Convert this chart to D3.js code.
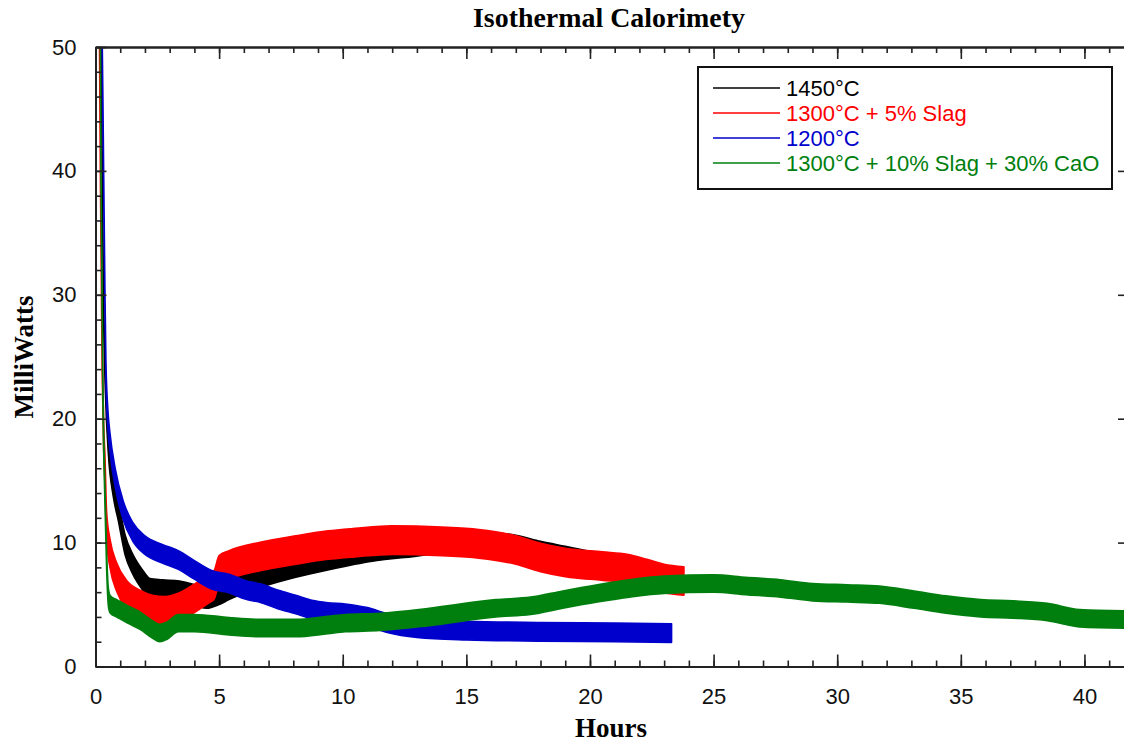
<!DOCTYPE html>
<html>
<head>
<meta charset="utf-8">
<script src="https://cdn.jsdelivr.net/npm/d3@7"></script>
<style>
  body { margin: 0; background: #fff; }
  svg { display: block; }
</style>
</head>
<body>
<svg id="chart" width="1124" height="742"></svg>
<script>
// series names and colours, legend order
const seriesNames = ["1450°C", "1300°C + 5% Slag", "1200°C", "1300°C + 10% Slag + 30% CaO"];
const seriesColors = ["#000000", "#ff0000", "#0000cc", "#007f0e"];

// hours / milliwatts (centre of the noisy band)
const hours1450 = [0.12, 0.25, 0.32, 0.4, 0.52, 0.72, 0.92, 1.2, 1.5, 1.9, 2.2, 2.7, 3.4, 4.0, 4.5, 5.0, 5.4, 6.7, 8.1, 9.4, 11.2, 12.5, 14, 16, 17, 18, 19, 20, 21.5, 22.5, 23.4];
const mw1450    = [70, 45, 30, 23, 18, 14.5, 12.6, 9.8, 8.3, 7.0, 6.3, 6.2, 6.1, 5.8, 5.5, 5.8, 6.2, 7.2, 8.0, 8.6, 9.3, 9.6, 9.9, 10.0, 9.8, 9.3, 8.9, 8.5, 8.0, 7.6, 7.0];

const hours1300s5 = [0.1, 0.2, 0.27, 0.33, 0.38, 0.45, 0.59, 0.86, 1.26, 1.8, 2.3, 2.8, 3.4, 4.0, 4.6, 4.8, 5.0, 5.4, 6.7, 8.1, 9.4, 10.5, 12, 14, 15.5, 17, 18, 19, 20.5, 21.5, 22.3, 23, 23.8];
const mw1300s5    = [70, 40, 25, 18.5, 16, 11.3, 9.1, 7.2, 5.8, 5.0, 4.6, 4.5, 4.8, 5.5, 6.3, 6.6, 7.8, 8.2, 8.9, 9.4, 9.8, 10.0, 10.2, 10.1, 9.9, 9.4, 8.8, 8.4, 8.1, 7.9, 7.5, 7.1, 6.9];

const hours1200 = [0.15, 0.3, 0.38, 0.42, 0.5, 0.59, 0.79, 1.12, 1.5, 2.0, 2.7, 3.35, 4.0, 4.7, 5.4, 6.05, 6.7, 7.4, 8.1, 8.75, 9.4, 10.1, 11, 11.8, 13, 15, 18, 21, 23.3];
const mw1200    = [70, 45, 30, 24, 20, 18, 15.3, 12.6, 10.9, 9.8, 9.1, 8.6, 7.8, 7.0, 6.7, 6.2, 5.9, 5.4, 5.0, 4.6, 4.4, 4.3, 4.0, 3.5, 3.1, 2.9, 2.8, 2.75, 2.7];

const hoursCaO = [0.15, 0.22, 0.3, 0.38, 0.45, 0.52, 0.6, 0.86, 1.3, 1.8, 2.3, 2.6, 2.9, 3.35, 4.0, 5.4, 6.7, 8.1, 9.4, 10.1, 11.5, 13.5, 16.2, 17.6, 18.9, 20.3, 21.6, 23, 25, 26.3, 27.7, 29, 30.4, 31.7, 33.1, 34.4, 35.8, 37.1, 38.5, 39.8, 41.6];
const mwCaO    = [70, 40, 22, 14, 8.6, 5.6, 5.0, 4.7, 4.2, 3.7, 3.0, 2.7, 2.9, 3.5, 3.5, 3.25, 3.1, 3.1, 3.35, 3.5, 3.6, 4.0, 4.7, 4.9, 5.4, 5.9, 6.3, 6.6, 6.7, 6.5, 6.3, 6.0, 5.9, 5.8, 5.4, 5.0, 4.7, 4.6, 4.4, 3.9, 3.8];

// half height of each noise band, milliwatts
const noiseAmp = [0.8, 1.15, 0.75, 0.7];

const xTicks = [0, 5, 10, 15, 20, 25, 30, 35, 40];
const yTicks = [0, 10, 20, 30, 40, 50];

const allHours = [hours1450, hours1300s5, hours1200, hoursCaO];
const allMw = [mw1450, mw1300s5, mw1200, mwCaO];

const svg = d3.select("#chart");
const x = d3.scaleLinear().domain([0, 41.6]).range([95.5, 1124]);
const y = d3.scaleLinear().domain([0, 50]).range([666.5, 47]);

const tickFont = '"Liberation Sans", Arial, sans-serif';
const titleFont = '"Liberation Serif", "Times New Roman", serif';

svg.append("clipPath").attr("id", "plot")
  .append("rect")
  .attr("x", x(0)).attr("y", y(50))
  .attr("width", x(41.6) - x(0)).attr("height", y(0) - y(50));

// noisy traces as bands
const band = d3.area()
  .x(d => x(d.h))
  .y0(d => y(d.v - d.n))
  .y1(d => y(d.v + d.n))
  .curve(d3.curveMonotoneX);

const traces = svg.append("g").attr("clip-path", "url(#plot)");
seriesNames.forEach((name, i) => {
  const pts = allHours[i].map((h, j) => ({ h: h, v: allMw[i][j], n: noiseAmp[i] }));
  traces.append("path")
    .datum(pts)
    .attr("d", band)
    .attr("fill", seriesColors[i])
    .attr("stroke", seriesColors[i])
    .attr("stroke-width", 1.6)
    .attr("stroke-linejoin", "round");
});

// axes
function styleAxis(g) {
  g.select(".domain").attr("stroke", "#222").attr("stroke-width", 2);
  g.selectAll(".tick line").attr("stroke", "#222").attr("stroke-width", 1.6);
  g.selectAll(".tick text").attr("fill", "#111");
  g.attr("font-family", tickFont).attr("font-size", 22);
}

svg.append("g")
  .attr("transform", `translate(0,${y(0)})`)
  .call(d3.axisBottom(x).tickValues(d3.range(0, 42, 1)).tickSize(-6).tickSizeOuter(0).tickFormat(""))
  .call(styleAxis);
svg.append("g")
  .attr("transform", `translate(0,${y(0)})`)
  .call(d3.axisBottom(x).tickValues(xTicks).tickSize(-12).tickSizeOuter(0).tickPadding(22).tickFormat(d3.format("d")))
  .call(styleAxis);

svg.append("g")
  .attr("transform", `translate(0,${y(50)})`)
  .call(d3.axisTop(x).tickValues(d3.range(0, 42, 1)).tickSize(-6).tickSizeOuter(0).tickFormat(""))
  .call(styleAxis);
svg.append("g")
  .attr("transform", `translate(0,${y(50)})`)
  .call(d3.axisTop(x).tickValues(xTicks).tickSize(-12).tickSizeOuter(0).tickFormat(""))
  .call(styleAxis);

svg.append("g")
  .attr("transform", `translate(${x(0)},0)`)
  .call(d3.axisLeft(y).tickValues(d3.range(0, 51, 2)).tickSize(-6).tickSizeOuter(0).tickFormat(""))
  .call(styleAxis);
svg.append("g")
  .attr("transform", `translate(${x(0)},0)`)
  .call(d3.axisLeft(y).tickValues(yTicks).tickSize(-11).tickSizeOuter(0).tickPadding(19).tickFormat(d3.format("d")))
  .call(styleAxis);

svg.append("g")
  .attr("transform", `translate(1124,0)`)
  .call(d3.axisRight(y).tickValues([10, 20, 30, 40]).tickSize(-6).tickSizeOuter(0).tickFormat(""))
  .call(styleAxis)
  .call(g => g.select(".domain").remove());

// titles
svg.append("text")
  .attr("x", 609).attr("y", 27)
  .attr("text-anchor", "middle")
  .attr("font-family", titleFont).attr("font-weight", "bold").attr("font-size", 27)
  .attr("textLength", 272).attr("lengthAdjust", "spacingAndGlyphs")
  .text("Isothermal Calorimety");

svg.append("text")
  .attr("x", 611).attr("y", 737)
  .attr("text-anchor", "middle")
  .attr("font-family", titleFont).attr("font-weight", "bold").attr("font-size", 27)
  .text("Hours");

svg.append("text")
  .attr("transform", "translate(33,357) rotate(-90)")
  .attr("text-anchor", "middle")
  .attr("font-family", titleFont).attr("font-weight", "bold").attr("font-size", 27)
  .text("MilliWatts");

// legend
const legend = svg.append("g");
legend.append("rect")
  .attr("x", 698).attr("y", 67).attr("width", 414).attr("height", 122)
  .attr("fill", "#fff").attr("stroke", "#111").attr("stroke-width", 2);

seriesNames.forEach((name, i) => {
  const ry = 88 + i * 25;
  legend.append("line")
    .attr("x1", 713).attr("x2", 780).attr("y1", ry).attr("y2", ry)
    .attr("stroke", seriesColors[i]).attr("stroke-width", 1.6);
  legend.append("text")
    .attr("x", 786).attr("y", ry + 7.5)
    .attr("font-family", tickFont).attr("font-size", 22)
    .attr("fill", seriesColors[i])
    .text(name);
});
</script>
</body>
</html>
